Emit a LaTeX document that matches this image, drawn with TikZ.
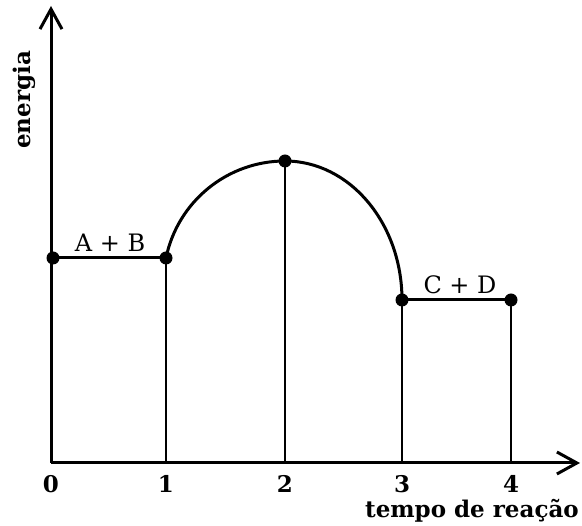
\documentclass[tikz,border=0pt]{standalone}
\usepackage{fontspec}
\setmainfont{DejaVu Serif}
\usetikzlibrary{arrows.meta}
\begin{document}
\begin{tikzpicture}[x=1pt,y=-1pt,
  axis/.style={line width=3pt,-{Straight Barb[length=20pt,width=22pt,line width=3pt]}},
  level/.style={line width=3pt},
  guide/.style={line width=1.3pt},
  dot/.style={circle,fill=black,inner sep=0pt,minimum size=13pt},
  lbl/.style={font=\fontsize{23}{26}\selectfont\bfseries,inner sep=0pt},
  spec/.style={font=\fontsize{24}{27}\selectfont,inner sep=0pt}]
\useasboundingbox (0,0) rectangle (582,526);
\coordinate (O) at (51,463);
\coordinate (Ytip) at (51,6);
\coordinate (Xtip) at (580,463);
\coordinate (F1) at (166,463);
\coordinate (F2) at (285,463);
\coordinate (F3) at (402,463);
\coordinate (F4) at (511,463);
\node[dot] (A) at (53,258) {};
\node[dot] (P1) at (166,258) {};
\node[dot] (P2) at (285,161) {};
\node[dot] (P3) at (402,300) {};
\node[dot] (P4) at (511,300) {};
% guides
\draw[guide] (P1.center) -- (F1);
\draw[guide] (P2.center) -- (F2);
\draw[guide] (P3.center) -- (F3);
\draw[guide] (P4.center) -- (F4);
% axes
\draw[axis] (O) -- (Ytip);
\draw[axis] (O) -- (Xtip);
% energy profile
\draw[level] (A.center) -- (P1.center);
\draw[level] (P1.center) arc[start angle=191.63,end angle=270,radius=121.5]
             arc[start angle=270,end angle=360,x radius=117,y radius=139];
\draw[level] (P3.center) -- (P4.center);
% labels
\node[lbl] (t0) at (51,484) {0};
\node[lbl] (t1) at (166,484) {1};
\node[lbl] (t2) at (285,484) {2};
\node[lbl] (t3) at (402,484) {3};
\node[lbl] (t4) at (511,484) {4};
\node[lbl,anchor=east] (xl) at (579,511) {tempo de reação};
\node[lbl,rotate=90] (yl) at (24,100) {energia};
\node[spec] (ab) at (110,243) {A + B};
\node[spec] (cd) at (460,285) {C + D};
\end{tikzpicture}
\end{document}
